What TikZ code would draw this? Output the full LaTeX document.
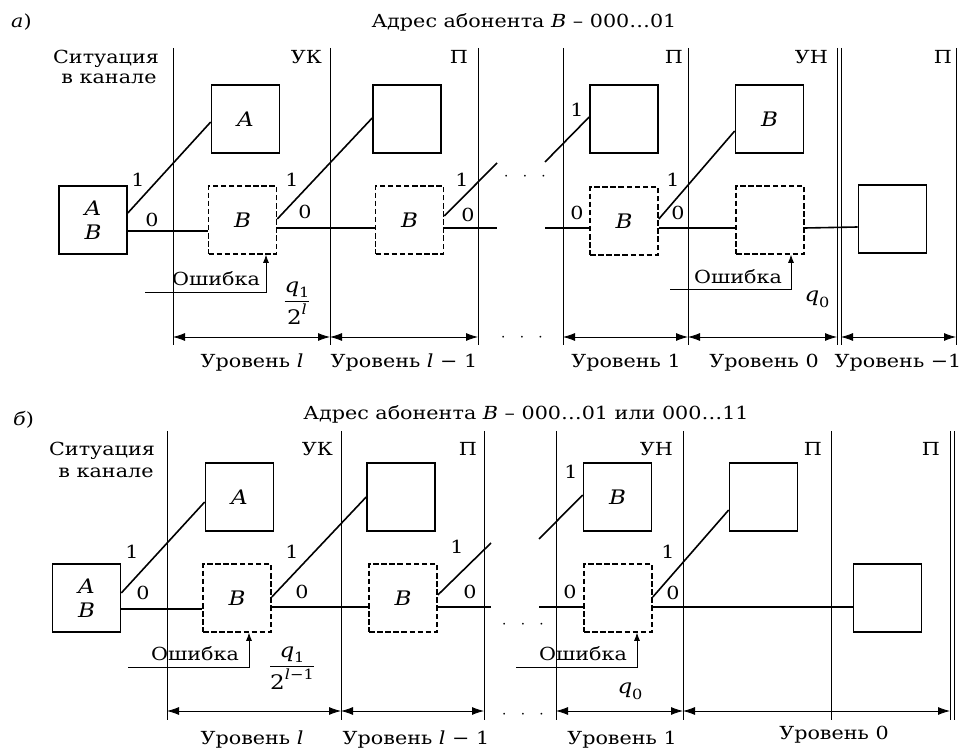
\documentclass[tikz,border=0pt]{standalone}
\usepackage{amsmath}
\usepackage{fontspec}
\setmainfont{DejaVu Serif}[FakeStretch=1.15]
\usetikzlibrary{arrows.meta,calc}
\newcommand{\mysub}[1]{\raisebox{-0.28em}{\fontsize{14}{14}\selectfont #1}}
\newcommand{\mysup}[1]{\raisebox{0.5em}{\fontsize{14}{14}\selectfont #1}}
\begin{document}
\begin{tikzpicture}[x=1pt,y=-1pt,
  every node/.style={font=\fontsize{18}{22}\selectfont, inner sep=0pt},
  sbox/.style={draw, line width=1.6pt, minimum width=68pt, minimum height=68pt, inner sep=0pt, font=\fontsize{20}{24}\selectfont},
  dbox/.style={sbox, dash pattern=on 5.5pt off 2.6pt},
  conn/.style={line width=1.6pt},
  vline/.style={line width=0.8pt},
  dim/.style={line width=0.8pt, {Latex[length=12pt,width=8pt]}-{Latex[length=12pt,width=8pt]}},
  err/.style={line width=0.8pt, -{Latex[length=8pt,width=6pt]}},
  frac/.style={font=\fontsize{20}{24}\selectfont},
  dots/.style={font=\fontsize{18}{22}\selectfont}
]
\useasboundingbox (0,0) rectangle (962,751);

% ================= panel a =================
\node[anchor=base west] (aLab) at (11,28) {\textit{а})};
\node[anchor=base] (aTitle) at (524,28) {Адрес абонента \textit{B} – 000…01};
\node[anchor=base] (aSit1) at (106,64) {Ситуация};
\node[anchor=base] (aSit2) at (109,84) {в канале};
\node[anchor=base east] (aH1) at (322,64) {УК};
\node[anchor=base east] (aH2) at (468,64) {П};
\node[anchor=base east] (aH3) at (683,64) {П};
\node[anchor=base east] (aH4) at (828,64) {УН};
\node[anchor=base east] (aH5) at (952,64) {П};

\foreach \x in {173,330,478,563,688,837,841,956} \draw[vline] (\x,48) -- (\x,345);

\node[sbox, align=center] (a0) at (93,220) {\textit{A}\\[0pt]\textit{B}};
\node[sbox] (aA) at (245.5,119) {\textit{A}};
\node[dbox] (aB1) at (242.5,220) {\textit{B}};
\node[sbox] (aT2) at (407,119) {};
\node[dbox] (aB2) at (409.5,220) {\textit{B}};
\node[sbox] (aT3) at (624,119) {};
\node[dbox] (aB3) at (624,221) {\textit{B}};
\node[sbox] (aT4) at (769.5,119) {\textit{B}};
\node[dbox] (aB4) at (770,220) {};
\node[sbox] (aE) at (892.5,219) {};

\coordinate (aF1) at (497,163);
\coordinate (aF2) at (497,228);
\coordinate (aF3) at (545,162);
\coordinate (aF4) at (545,228);

\draw[conn] ([yshift=7pt]a0.east) -- ([yshift=-3pt]aA.west);
\draw[conn] ([yshift=-11pt]a0.east) -- ([yshift=-11pt]aB1.west);
\draw[conn] ([yshift=1pt]aB1.east) -- ([yshift=1pt]aT2.west);
\draw[conn] ([yshift=-8pt]aB1.east) -- ([yshift=-8pt]aB2.west);
\draw[conn] ([yshift=4pt]aB2.east) -- (aF1);
\draw[conn] ([yshift=-8pt]aB2.east) -- (aF2);
\draw[conn] (aF3) -- ([yshift=2pt]aT3.west);
\draw[conn] (aF4) -- ([yshift=-7pt]aB3.west);
\draw[conn] ([yshift=2pt]aB3.east) -- ([yshift=-12pt]aT4.west);
\draw[conn] ([yshift=-7pt]aB3.east) -- ([yshift=-8pt]aB4.west);
\draw[conn] ([yshift=-8pt]aB4.east) -- ([yshift=-8pt]aE.west);

\node (al1) at (138,180) {1};
\node (al2) at (152,220) {0};
\node (al3) at (292,180) {1};
\node (al4) at (305,212) {0};
\node (al5) at (462,180) {1};
\node (al6) at (468,215) {0};
\node (al7) at (577,110) {1};
\node (al8) at (577,213) {0};
\node (al9) at (673,180) {1};
\node (al10) at (678,213) {0};

\node[dots] (aDots1) at (525,177) {$\cdot\hspace{10pt}\cdot\hspace{10pt}\cdot$};

\coordinate (aEr1) at (145,292);
\draw[err] (aEr1) -| ([xshift=23.5pt]aB1.south);
\node[anchor=base] (aO1) at (216,286) {Ошибка};
\node[frac] (aQ1) at (297,303) {$\dfrac{\mbox{\textit{q}\mysub{1}}}{\mbox{2\mysup{\textit{l}}}}$};
\coordinate (aEr2) at (670,289);
\draw[err] (aEr2) -| ([xshift=21pt]aB4.south);
\node[anchor=base] (aO2) at (738,284) {Ошибка};
\node[frac] (aQ0) at (817,299) {\textit{q}\mysub{0}};

\coordinate (ad1) at (173,337);
\coordinate (ad2) at (330,337);
\coordinate (ad3) at (478,337);
\coordinate (ad4) at (563,337);
\coordinate (ad5) at (688,337);
\coordinate (ad6) at (837,337);
\coordinate (ad7) at (841,337);
\coordinate (ad8) at (956,337);
\draw[dim] (ad1) -- (ad2);
\draw[dim] (ad2) -- (ad3);
\draw[dim] (ad4) -- (ad5);
\draw[dim] (ad5) -- (ad6);
\draw[dim] (ad7) -- (ad8);
\node[dots] (aDots2) at (522,338) {$\cdot\hspace{10pt}\cdot\hspace{10pt}\cdot$};
\node[anchor=base] (aU1) at (252,368) {Уровень \textit{l}};
\node[anchor=base] (aU2) at (404,368) {Уровень \textit{l} − 1};
\node[anchor=base] (aU3) at (626,368) {Уровень 1};
\node[anchor=base] (aU4) at (764,368) {Уровень 0};
\node[anchor=base] (aU5) at (898,368) {Уровень −1};

% ================= panel b =================
\node[anchor=base west] (bLab) at (13,425) {\textit{б})};
\node[anchor=base] (bTitle) at (526,420) {Адрес абонента \textit{B} – 000…01 или 000…11};
\node[anchor=base] (bSit1) at (102,456) {Ситуация};
\node[anchor=base] (bSit2) at (106,477) {в канале};
\node[anchor=base east] (bH1) at (333,456) {УК};
\node[anchor=base east] (bH2) at (477,456) {П};
\node[anchor=base east] (bH3) at (673,456) {УН};
\node[anchor=base east] (bH4) at (822,456) {П};
\node[anchor=base east] (bH5) at (940,456) {П};

\foreach \x in {167,341,484,556,683,831,950,954} \draw[vline] (\x,431) -- (\x,720);

\node[sbox, align=center] (b0) at (86.5,598) {\textit{A}\\[0pt]\textit{B}};
\node[sbox] (bA) at (239.5,497) {\textit{A}};
\node[dbox] (bB1) at (237,598) {\textit{B}};
\node[sbox] (bT2) at (401,497) {};
\node[dbox] (bB2) at (403,598) {\textit{B}};
\node[sbox] (bT3) at (617.5,497) {\textit{B}};
\node[dbox] (bB3) at (618,598) {};
\node[sbox] (bT4) at (763.5,497) {};
\node[sbox] (bE) at (887.5,598) {};

\coordinate (bF1) at (491,543);
\coordinate (bF2) at (491,607);
\coordinate (bF3) at (539,539);
\coordinate (bF4) at (539,607);

\draw[conn] ([yshift=5pt]b0.east) -- ([yshift=-5pt]bA.west);
\draw[conn] ([yshift=-11pt]b0.east) -- ([yshift=-11pt]bB1.west);
\draw[conn] ([yshift=1pt]bB1.east) -- (bT2.west);
\draw[conn] ([yshift=-9pt]bB1.east) -- ([yshift=-9pt]bB2.west);
\draw[conn] ([yshift=3pt]bB2.east) -- (bF1);
\draw[conn] ([yshift=-9pt]bB2.east) -- (bF2);
\draw[conn] (bF3) -- ([yshift=2pt]bT3.west);
\draw[conn] (bF4) -- ([yshift=-9pt]bB3.west);
\draw[conn] ([yshift=1pt]bB3.east) -- ([yshift=-13pt]bT4.west);
\draw[conn] ([yshift=-9pt]bB3.east) -- ([yshift=-9pt]bE.west);

\node (bl1) at (132,552) {1};
\node (bl2) at (143,593) {0};
\node (bl3) at (292,552) {1};
\node (bl4) at (302,592) {0};
\node (bl5) at (457,547) {1};
\node (bl6) at (470,592) {0};
\node (bl7) at (571,472) {1};
\node (bl8) at (570,592) {0};
\node (bl9) at (668,552) {1};
\node (bl10) at (673,593) {0};

\node[dots] (bDots1) at (523,625) {$\cdot\hspace{10pt}\cdot\hspace{10pt}\cdot$};

\coordinate (bEr1) at (128,667);
\draw[err] (bEr1) -| ([xshift=12pt]bB1.south);
\node[anchor=base] (bO1) at (195,660) {Ошибка};
\node[frac] (bQ1) at (292,668) {$\dfrac{\mbox{\textit{q}\mysub{1}}}{\mbox{2\mysup{\textit{l}−1}}}$};
\coordinate (bEr2) at (516,667);
\draw[err] (bEr2) -| ([xshift=19pt]bB3.south);
\node[anchor=base] (bO2) at (583,660) {Ошибка};
\node[frac] (bQ0) at (630,691) {\textit{q}\mysub{0}};

\coordinate (bd1) at (167,711);
\coordinate (bd2) at (341,711);
\coordinate (bd3) at (484,711);
\coordinate (bd4) at (556,711);
\coordinate (bd5) at (683,711);
\coordinate (bd6) at (950,711);
\draw[dim] (bd1) -- (bd2);
\draw[dim] (bd2) -- (bd3);
\draw[dim] (bd4) -- (bd5);
\draw[dim] (bd5) -- (bd6);
\node[dots] (bDots2) at (523,715) {$\cdot\hspace{10pt}\cdot\hspace{10pt}\cdot$};
\node[anchor=base] (bU1) at (252,744) {Уровень \textit{l}};
\node[anchor=base] (bU2) at (416,744) {Уровень \textit{l} − 1};
\node[anchor=base] (bU3) at (622,744) {Уровень 1};
\node[anchor=base] (bU4) at (834,739) {Уровень 0};
\end{tikzpicture}
\end{document}
